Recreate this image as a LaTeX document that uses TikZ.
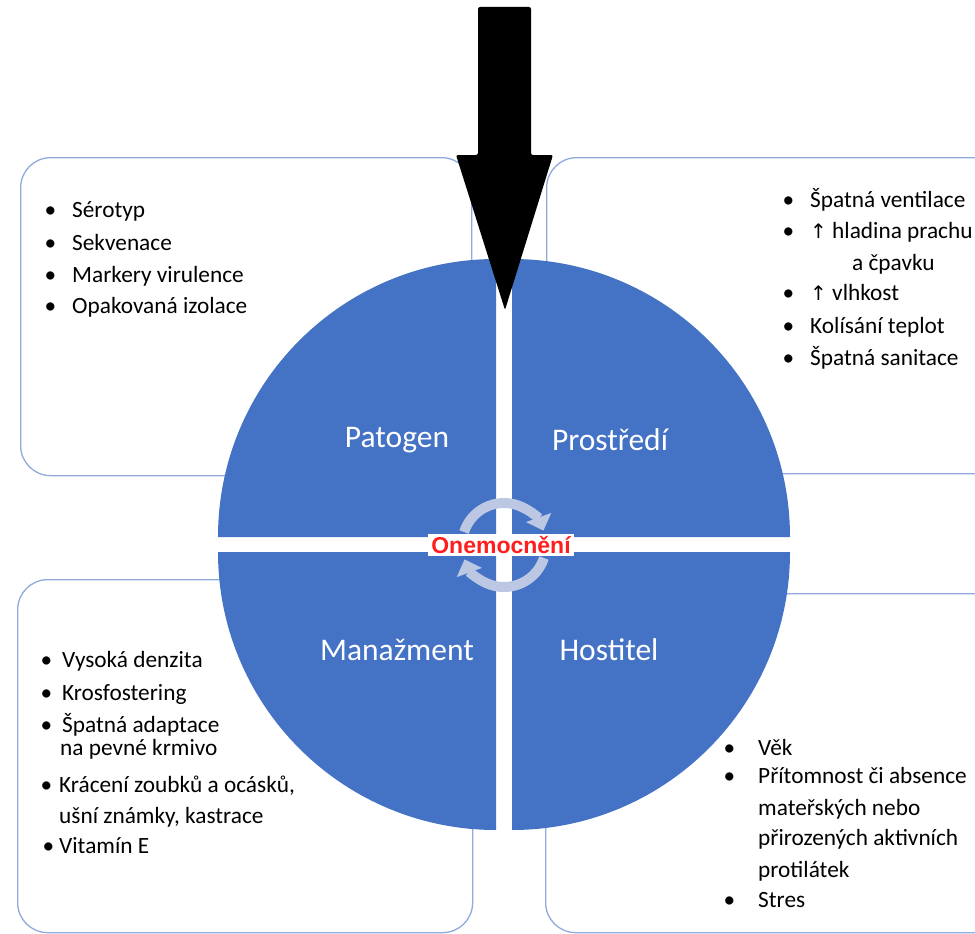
\documentclass[tikz,border=0pt]{standalone}
\usepackage{fontspec}
\setmainfont{Carlito}
\newfontfamily\arialfont{Liberation Sans}
\newfontfamily\symfont{DejaVu Sans}
\usetikzlibrary{arrows.meta}

\definecolor{quadblue}{HTML}{4472C4}
\definecolor{boxline}{HTML}{8FAADC}
\definecolor{cyclegrey}{HTML}{BCC7E4}
\definecolor{diseasered}{HTML}{FF1E1E}

% bullet hanging left of the item text
\newcommand{\bul}[1][16pt]{\llap{•\hspace{#1}}}
\newcommand{\uparr}{{\symfont\fontsize{20}{22}\selectfont ↑}}

\begin{document}
\begin{tikzpicture}[
        x=1pt, y=-1pt,
        box/.style={draw=boxline, line width=1.3pt, fill=white, rounded corners=30pt,
            anchor=north west, inner sep=0pt},
        quad/.style={fill=quadblue},
        quadlabel/.style={text=white, font=\fontsize{31.5}{36}\selectfont},
        item/.style={anchor=base west, inner sep=0pt, font=\fontsize{23.3}{27}\selectfont},
        cycle/.style={draw=cyclegrey, line width=10pt, -{Triangle[width=26pt,length=14pt]}},
        ]
    \clip (0,0) rectangle (975,934);

    % four boxes behind the circle
    \node[box, minimum width=451pt, minimum height=318pt] (patbox) at (20,157) {};
    \node[box, minimum width=460pt, minimum height=316pt] (envbox) at (546,157) {};
    \node[box, minimum width=455pt, minimum height=353pt] (manbox) at (17,579) {};
    \node[box, minimum width=460pt, minimum height=339pt] (hostbox) at (545,593) {};

    % the circle, cut in quarters
    \fill[quad] (496,537) -- (218,537) arc[start angle=180, end angle=270, radius=278] -- cycle;
    \fill[quad] (512,537) -- (790,537) arc[start angle=0, end angle=-90, radius=278] -- cycle;
    \fill[quad] (496,552) -- (218,552) arc[start angle=180, end angle=90, radius=278] -- cycle;
    \fill[quad] (512,552) -- (790,552) arc[start angle=0, end angle=90, radius=278] -- cycle;

    \node[quadlabel] (pat) at (397,440) {Patogen};
    \node[quadlabel] (env) at (610,440) {Prostředí};
    \node[quadlabel] (man) at (397,650) {Manažment};
    \node[quadlabel] (host) at (609,650) {Hostitel};

    % cycle in the middle
    \coordinate (hub) at (504,545);
    \draw[cycle] ([shift={(-162:42)}]hub) arc[start angle=-162, end angle=-20, radius=42];
    \draw[cycle] ([shift={(18:42)}]hub) arc[start angle=18, end angle=160, radius=42];
    \node[fill=white, inner xsep=3pt, inner ysep=2pt, text=diseasered,
        font=\arialfont\bfseries\fontsize{23}{25}\selectfont] (disease) at (501,545) {Onemocnění};

    % big black arrow
    \fill[rounded corners=2pt] (478,7) -- (531,7) -- (531,155) -- (553,155) -- (505,310)
        -- (456,155) -- (478,155) -- cycle;

    % Patogen
    \node[item] (pat1) at (72,217) {\bul Sérotyp};
    \node[item] (pat2) at (72,250) {\bul Sekvenace};
    \node[item] (pat3) at (72,282) {\bul Markery virulence};
    \node[item] (pat4) at (72,313) {\bul Opakovaná izolace};

    % Prostredi
    \node[item] (env1) at (810,207) {\bul Špatná ventilace};
    \node[item] (env2) at (810,238) {\bul\uparr\ hladina prachu};
    \node[item] (env3) at (852,270) {a čpavku};
    \node[item] (env4) at (810,300) {\bul\uparr\ vlhkost};
    \node[item] (env5) at (810,333) {\bul Kolísání teplot};
    \node[item] (env6) at (810,365) {\bul Špatná sanitace};

    % Manazment
    \node[item] (man1) at (62,667) {\bul[10pt]Vysoká denzita};
    \node[item] (man2) at (62,700) {\bul[10pt]Krosfostering};
    \node[item] (man3) at (62,732) {\bul[10pt]Špatná adaptace};
    \node[item] (man4) at (60,755) {na pevné krmivo};
    \node[item] (man5) at (59,792) {\bul[7pt]Krácení zoubků a ocásků,};
    \node[item] (man6) at (59,823) {ušní známky, kastrace};
    \node[item] (man7) at (59,853) {\bul[5pt]Vitamín E};

    % Hostitel
    \node[item] (host1) at (758,755) {\bul[23pt]Věk};
    \node[item] (host2) at (758,783) {\bul[23pt]Přítomnost či absence};
    \node[item] (host3) at (758,815) {mateřských nebo};
    \node[item] (host4) at (758,845) {přirozených aktivních};
    \node[item] (host5) at (758,877) {protilátek};
    \node[item] (host6) at (758,907) {\bul[23pt]Stres};
\end{tikzpicture}
\end{document}
